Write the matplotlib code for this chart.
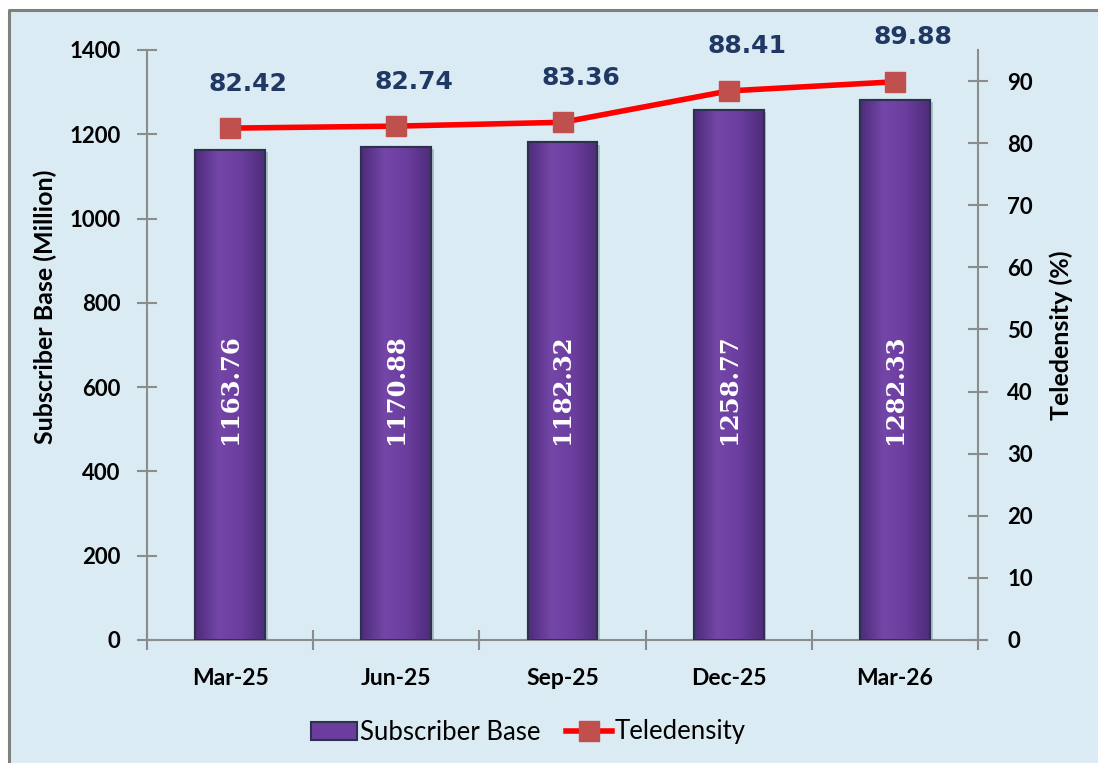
import numpy as np
import matplotlib.pyplot as plt
import matplotlib.patheffects as pe
from matplotlib.patches import Rectangle
from matplotlib.lines import Line2D
from matplotlib.colors import LinearSegmentedColormap

# --- data
quarters = ['Mar-25', 'Jun-25', 'Sep-25', 'Dec-25', 'Mar-26']
subscribers = [1163.76, 1170.88, 1182.32, 1258.77, 1282.33]
teledensity = [82.42, 82.74, 83.36, 88.41, 89.88]

bg = '#DAEBF3'
bar_col = '#6A3D9E'
bar_edge = '#2E3050'
axis_col = '#8C8C8C'

plt.rcParams['font.family'] = ['Lato', 'DejaVu Sans']

fig = plt.figure(figsize=(10.98, 7.63), dpi=100)
fig.patch.set_facecolor('white')
# chart area: light blue panel, frame only on left and top
fx0, fy1 = 9 / 1098, 1 - 10 / 763
fig.add_artist(Rectangle((fx0, 0), 1 - fx0, fy1, transform=fig.transFigure,
                         facecolor=bg, edgecolor='none', zorder=0))
fig.add_artist(Line2D([fx0, fx0, 1], [0, fy1, fy1], transform=fig.transFigure,
                      color='#7F7F7F', lw=2.2, zorder=0.5))

ax = fig.add_axes([147 / 1098, 1 - 640 / 763, (978 - 147) / 1098, 590 / 763])
ax.set_facecolor('none')
x = np.arange(len(quarters))

bars = ax.bar(x, subscribers, width=0.42, color=bar_col, edgecolor=bar_edge,
              lw=1.5, zorder=2)
# fake shaded look: horizontal gradient clipped to each bar + drop shadow
cmap = LinearSegmentedColormap.from_list('pur', ['#4E2C7A', '#7346A8', '#6A3D9E', '#4E2C7A'])
grad = np.linspace(0, 1, 64).reshape(1, -1)
for b in bars:
    b.set_path_effects([pe.SimplePatchShadow(offset=(2, -2), shadow_rgbFace='#5A6A7A', alpha=0.35),
                        pe.Normal()])
    im = ax.imshow(grad, cmap=cmap, aspect='auto', zorder=2.5,
                   extent=(b.get_x(), b.get_x() + b.get_width(), 0, b.get_height()))
    im.set_clip_path(b)
    ax.bar(b.get_x() + b.get_width() / 2, b.get_height(), width=b.get_width(),
           color='none', edgecolor=bar_edge, lw=1.5, zorder=2.6)

for xi, v in zip(x, subscribers):
    ax.text(xi, 595, f'{v:.2f}', rotation=90, ha='center', va='center',
            color='white', fontsize=17.5, fontweight='bold',
            family=['DejaVu Serif'], zorder=4)

ax.set_xlim(-0.5, len(quarters) - 0.5)
ax.set_ylim(0, 1400)
ax.set_yticks(np.arange(0, 1401, 200))
ax.set_xticks(np.arange(len(quarters) + 1) - 0.5)
ax.set_xticklabels([])
ax.set_xticks(x, minor=True)
ax.set_xticklabels(quarters, minor=True, fontsize=16.5, fontweight='bold')
ax.tick_params(axis='x', which='minor', length=0, pad=20)
ax.tick_params(axis='x', which='major', direction='inout', length=14, color=axis_col, width=1.5)
ax.tick_params(axis='y', direction='inout', length=14, color=axis_col, width=1.5,
               labelsize=16, pad=12)
for t in ax.get_yticklabels():
    t.set_fontweight('bold')
for s in ['top', 'right']:
    ax.spines[s].set_visible(False)
for s in ['left', 'bottom']:
    ax.spines[s].set_color(axis_col)
    ax.spines[s].set_linewidth(1.5)
ax.set_ylabel('Subscriber Base (Million)', fontsize=18, fontweight='bold', labelpad=9)
ax.yaxis.label.set_y(0.565)

ax2 = ax.twinx()
ax2.set_ylim(0, 95)
ax2.set_yticks(np.arange(0, 91, 10))
ax2.plot(x, teledensity, color='#FF0000', lw=4, marker='s', markersize=15,
         markerfacecolor='#C0504D', markeredgecolor='#C0504D', zorder=5)
for xi, v in zip(x, teledensity):
    ax2.annotate(f'{v:.2f}', (xi, v), xytext=(13, 32), textcoords='offset points',
                 ha='center', va='center', fontsize=18, fontweight='bold',
                 color='#1F3864', family=['DejaVu Sans'])
for s in ['top', 'left', 'bottom']:
    ax2.spines[s].set_visible(False)
ax2.spines['right'].set_color(axis_col)
ax2.spines['right'].set_linewidth(1.5)
ax2.tick_params(axis='y', direction='inout', length=14, color=axis_col, width=1.5,
                labelsize=16, pad=14)
for t in ax2.get_yticklabels():
    t.set_fontweight('bold')
ax2.set_ylabel('Teledensity (%)', fontsize=18, fontweight='bold', labelpad=12)
ax2.yaxis.label.set_y(0.517)

handles = [Rectangle((0, 0), 1, 1, facecolor=bar_col, edgecolor=bar_edge, lw=1.5),
           Line2D([0], [0], color='#FF0000', lw=4, marker='s', markersize=14,
                  markerfacecolor='#C0504D', markeredgecolor='#C0504D')]
fig.legend(handles, ['Subscriber Base', 'Teledensity'], loc='center',
           bbox_to_anchor=(0.481, 1 - 732 / 763), ncol=2, frameon=False,
           fontsize=18.5, handlelength=1.8, handletextpad=0.1, columnspacing=1.0)

fig.savefig('out.png', dpi=100)
